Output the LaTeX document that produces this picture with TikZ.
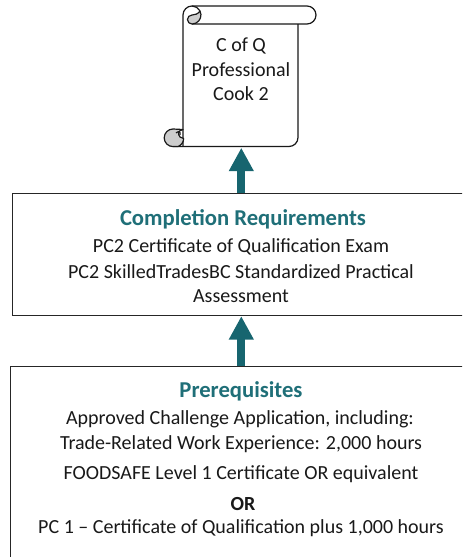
\documentclass[tikz,border=0pt]{standalone}
\usepackage{fontspec}
\setmainfont{Carlito}
\usetikzlibrary{arrows.meta,calc}
\definecolor{teal1}{HTML}{17656F}
\definecolor{teal2}{HTML}{1F6F78}
\definecolor{curl}{HTML}{CDCDCD}
\tikzset{
  boxnode/.style={draw=black!85,line width=0.9pt,fill=white,anchor=north west,inner sep=0pt},
  txt/.style={inner sep=0pt,font=\fontsize{15}{17}\selectfont,text=black!90},
  head/.style={inner sep=0pt,font=\fontsize{17}{19}\selectfont\bfseries,text=teal2},
  big/.style={line width=5.8pt,draw=teal1,-{Triangle[length=17.5pt,width=17.5pt,fill=teal1]}},
  scrollline/.style={draw=black!90,line width=0.9pt,line join=round}
}
\begin{document}
\begin{tikzpicture}[x=0.75pt,y=-0.75pt]
\useasboundingbox (0,0) rectangle (462,557);
\clip (0,0) rectangle (462,557);
% scroll
\draw[scrollline] (192,6) -- (307,6) arc[start angle=90,end angle=-90,radius=6.75pt] -- (192,24);
\draw[scrollline] (192,6) arc[start angle=90,end angle=180,radius=6.75pt] -- (183,146);
\draw[scrollline] (173,146.5) -- (289,146.5) arc[start angle=-90,end angle=0,radius=6.75pt] -- (298,24);
\draw[scrollline] (192,6) arc[start angle=90,end angle=26.6,radius=6.75pt];
\filldraw[scrollline,fill=curl] (200,11) arc[start angle=26.6,end angle=-90,radius=6.75pt] arc[start angle=270,end angle=90,radius=3.375pt] .. controls (195,15) and (198,14) .. (200,11) -- cycle;
\filldraw[scrollline,fill=curl] (173,129) arc[start angle=90,end angle=270,radius=6.6pt] -- (178,146.5) arc[start angle=-70,end angle=0,radius=6.4pt] -- (180,137) .. controls (178,134) and (177,131) .. (183,129.5) -- cycle;
\draw[scrollline] (176,133) .. controls (178,131) and (181,131) .. (180,135);
\node[minimum width=86.25pt,minimum height=106.5pt,inner sep=0pt] (scroll) at (241.3,76.5) {};
\node[txt] (t1) at (241,46) {C of Q};
\node[txt] (t2) at (241,70) {Professional};
\node[txt] (t3) at (241,94) {Cook 2};
% boxes
\node[boxnode,minimum width=360pt,minimum height=91.5pt] (comp) at (12,193) {};
\node[boxnode,minimum width=360pt,minimum height=180pt] (pre) at (10,366) {};
\node[head] (c0) at (243,219) {Completion Requirements};
\node[txt] (c1) at (241,247) {PC2 Certificate of Qualification Exam};
\node[txt] (c2) at (241,272) {PC2 SkilledTradesBC Standardized Practical};
\node[txt] (c3) at (241,296) {Assessment};
\node[head] (p0) at (241,391) {Prerequisites};
\node[txt] (p1) at (240,419) {Approved Challenge Application, including:};
\node[txt] (p2) at (241,444) {Trade-Related Work Experience: 2,000 hours};
\node[txt] (p3) at (241,474) {FOODSAFE Level 1 Certificate OR equivalent};
\node[txt,font=\fontsize{15}{17}\selectfont\bfseries] (p4) at (243,504) {OR};
\node[txt] (p5) at (241,528) {PC 1 – Certificate of Qualification plus 1,000 hours};
% arrows
\draw[big] (comp.north -| scroll.south) -- (scroll.south);
\draw[big] (pre.north -| scroll.south) -- (comp.south -| scroll.south);
\end{tikzpicture}
\end{document}
